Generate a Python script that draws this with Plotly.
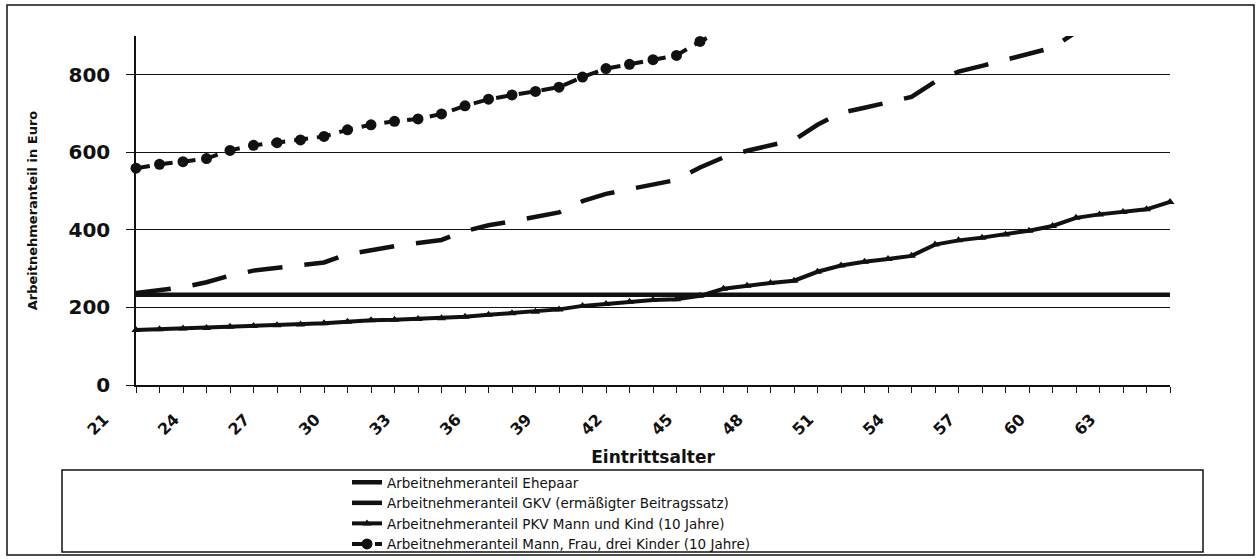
import plotly.graph_objects as go

# ---------------- data ----------------
ages = list(range(21, 66))
tick_labels = [str(a) if (a - 21) % 3 == 0 else "" for a in ages]
y_ticks = [0, 200, 400, 600, 800]

series_names = [
    "Arbeitnehmeranteil Ehepaar",
    "Arbeitnehmeranteil GKV (ermäßigter Beitragssatz)",
    "Arbeitnehmeranteil PKV Mann und Kind (10 Jahre)",
    "Arbeitnehmeranteil Mann, Frau, drei Kinder (10 Jahre)",
]

ehepaar = [237, 244, 252, 265, 282, 295, 302, 310, 316, 337,
           348, 358, 366, 374, 397, 412, 422, 434, 445, 474,
           493, 505, 517, 529, 561, 587, 604, 617, 632, 671,
           702, 715, 729, 743, 782, 808, 823, 839, 854, 870,
           910, None, None, None, None]

gkv = [233, 233, 233, 233, 233, 233, 233, 233, 233, 233,
       233, 233, 233, 233, 233, 233, 233, 233, 233, 233,
       233, 233, 233, 233, 233, 233, 233, 233, 233, 233,
       233, 233, 233, 233, 233, 233, 233, 233, 233, 233,
       233, 233, 233, 233, 233]

pkv = [142, 144, 146, 147, 150, 152, 154, 156, 159, 163,
       167, 168, 170, 172, 176, 181, 185, 189, 195, 204,
       209, 215, 219, 221, 230, 248, 256, 263, 269, 292,
       308, 318, 325, 333, 362, 373, 380, 388, 398, 410,
       431, 440, 446, 453, 472]

familie = [559, 569, 576, 584, 605, 618, 625, 632, 641, 658,
           671, 680, 686, 699, 720, 737, 748, 757, 768, 794,
           816, 827, 839, 850, 886, 915, None, None, None, None,
           None, None, None, None, None, None, None, None, None, None,
           None, None, None, None, None]

# ---------------- layout constants (pixels) ----------------
W, H = 1258, 560
L, R, T, B = 136, 88, 36, 175
PW, PH = W - L - R, H - T - B


def px_x(p):
    return (p - L) / PW


def px_y(p):
    return (H - B - p) / PH


INK = "#111111"

fig = go.Figure()

fig.add_trace(go.Scatter(
    x=ages, y=ehepaar, name=series_names[0], mode="lines",
    line=dict(color=INK, width=4.5, dash="35px,22px"),
    cliponaxis=False,
))
fig.add_trace(go.Scatter(
    x=ages, y=gkv, name=series_names[1], mode="lines",
    line=dict(color=INK, width=4.5),
    cliponaxis=False,
))
fig.add_trace(go.Scatter(
    x=ages, y=pkv, name=series_names[2], mode="lines+markers",
    line=dict(color=INK, width=4),
    marker=dict(symbol="triangle-up", size=8, color=INK),
    cliponaxis=False,
))
fig.add_trace(go.Scatter(
    x=ages, y=familie, name=series_names[3], mode="lines+markers",
    line=dict(color=INK, width=4, dash="14px,9px"),
    marker=dict(symbol="circle", size=11, color=INK),
    cliponaxis=False,
))

fig.update_layout(
    width=W, height=H,
    margin=dict(l=L, r=R, t=T, b=B, autoexpand=False),
    paper_bgcolor="white", plot_bgcolor="white",
    font=dict(family="DejaVu Sans", color=INK),
    showlegend=True,
    legend=dict(
        x=px_x(347), y=px_y(467), xanchor="left", yanchor="top",
        bgcolor="rgba(0,0,0,0)", borderwidth=0,
        font=dict(family="DejaVu Sans", size=13.5, color=INK),
        tracegroupgap=0,
    ),
    xaxis=dict(
        range=[21, 65], automargin=False,
        tickmode="array", tickvals=ages, ticktext=tick_labels,
        tickangle=-45,
        ticks="outside", ticklen=6, tickcolor=INK, tickwidth=1,
        showline=True, linecolor=INK, linewidth=1.5,
        showgrid=False, zeroline=False,
        tickfont=dict(family="DejaVu Sans", size=16, color=INK, weight="bold"),
        ticklabelstandoff=11, ticklabelshift=-32,
        title=dict(text="Eintrittsalter",
                   font=dict(family="DejaVu Sans", size=17, color=INK, weight="bold"),
                   standoff=13),
    ),
    yaxis=dict(
        range=[0, 900], automargin=False,
        tickmode="array", tickvals=y_ticks,
        ticks="outside", ticklen=8, tickcolor=INK, tickwidth=1,
        showline=True, linecolor=INK, linewidth=1.5,
        showgrid=True, gridcolor=INK, gridwidth=1,
        zeroline=False,
        tickfont=dict(family="DejaVu Sans", size=20, color=INK, weight="bold"),
        ticklabelstandoff=12,
        title=dict(text="Arbeitnehmeranteil in Euro",
                   font=dict(family="DejaVu Sans", size=13, color=INK, weight="bold"),
                   standoff=28),
    ),
    shapes=[
        # outer chart border
        dict(type="rect", xref="paper", yref="paper",
             x0=px_x(7), x1=px_x(1254), y0=px_y(555), y1=px_y(5),
             line=dict(color=INK, width=1.5), fillcolor="rgba(0,0,0,0)", layer="below"),
        # legend box
        dict(type="rect", xref="paper", yref="paper",
             x0=px_x(62), x1=px_x(1203), y0=px_y(552), y1=px_y(470),
             line=dict(color=INK, width=1.5), fillcolor="rgba(0,0,0,0)", layer="below"),
    ],
)

fig.write_html(
    "out.html",
    config={"displayModeBar": False},
    post_script="document.body.style.margin='0';document.body.style.overflow='hidden';",
)
